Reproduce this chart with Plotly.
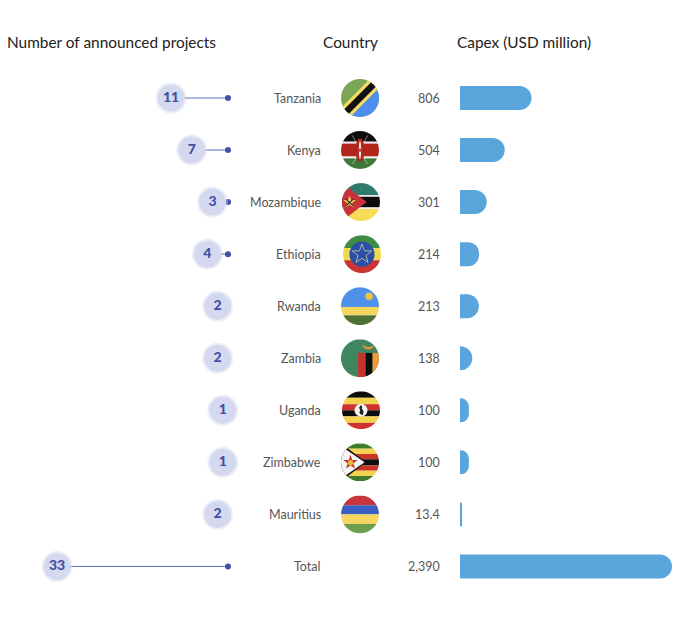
import math
from urllib.parse import quote
import plotly.graph_objects as go

countries = ["Tanzania", "Kenya", "Mozambique", "Ethiopia", "Rwanda", "Zambia", "Uganda", "Zimbabwe", "Mauritius", "Total"]
projects = [11, 7, 3, 4, 2, 2, 1, 1, 2, 33]
capex = [806, 504, 301, 214, 213, 138, 100, 100, 13.4, 2390]
capex_labels = ["806", "504", "301", "214", "213", "138", "100", "100", "13.4", "2,390"]

W, H = 680, 627
FONT = "Lato"
ROW_TOP, ROW_STEP = 98, 52.05
COUNT_ZERO, COUNT_SCALE = 228, 5.18
BAR_ZERO, BAR_SCALE = 460, 212 / 2390


def star(cx, cy, r_out, r_in, n=5):
    pts = []
    for i in range(n * 2):
        r = r_out if i % 2 == 0 else r_in
        a = -math.pi / 2 + i * math.pi / n
        pts.append(f"{cx + r * math.cos(a):.1f},{cy + r * math.sin(a):.1f}")
    return " ".join(pts)


def stripes(*bands):
    # bands are (top, height, colour) in a 100x100 box
    return "".join(f'<rect x="0" y="{t}" width="100" height="{h}" fill="{c}"/>' for t, h, c in bands)


FLAGS = {
    "Tanzania": '<rect width="100" height="100" fill="#7ba655"/>'
                '<polygon points="100,0 100,100 0,100" fill="#4f8dee"/>'
                '<polygon points="-10,86 86,-10 110,14 14,110" fill="#f5dc62"/>'
                '<polygon points="-4,92 92,-4 104,8 8,104" fill="#111"/>',
    "Kenya": stripes((0, 28, "#0d0d0d"), (28, 5, "#eee"), (33, 34, "#b3261e"), (67, 5, "#eee"), (72, 28, "#3d7a3a"))
             + '<path d="M30 12 L70 88 M70 12 L30 88" stroke="#ddd" stroke-width="1.5"/>'
               '<ellipse cx="50" cy="50" rx="12" ry="31" fill="#b3261e"/>'
               '<ellipse cx="50" cy="50" rx="3" ry="24" fill="#eee"/>'
               '<ellipse cx="50" cy="50" rx="2.5" ry="5" fill="#b3261e"/>',
    "Mozambique": stripes((0, 32, "#2f7a6e"), (32, 4, "#eee"), (36, 28, "#0d0d0d"), (64, 4, "#eee"), (68, 32, "#f8dc55"))
                  + '<polygon points="0,0 65,50 0,100" fill="#c9323a"/>'
                  + f'<polygon points="{star(20, 50, 17, 7)}" fill="#f3d44e"/>'
                  + '<path d="M10 60 L30 42 M30 60 L10 42" stroke="#222" stroke-width="3"/>',
    "Ethiopia": stripes((0, 34, "#3f8c45"), (34, 32, "#f0d94f"), (66, 34, "#cc3434"))
                + '<circle cx="50" cy="50" r="33" fill="#2850a8"/>'
                + f'<polygon points="{star(50, 50, 27, 11)}" fill="none" stroke="#b9bda0" stroke-width="2.5"/>',
    "Rwanda": stripes((0, 52, "#4f90ea"), (52, 22, "#f6d65e"), (74, 26, "#4f7136"))
              + f'<polygon points="{star(74, 24, 13, 8, 12)}" fill="#f0c53c"/>',
    "Zambia": '<rect width="100" height="100" fill="#3f8560"/>'
              '<rect x="45" y="36" width="20" height="64" fill="#c5332f"/>'
              '<rect x="65" y="36" width="18" height="64" fill="#0d0d0d"/>'
              '<rect x="83" y="36" width="17" height="64" fill="#ee9a3c"/>'
              '<path d="M54 13 Q66 22 72 20 Q80 22 90 14 Q82 28 72 27 Q62 27 54 13 Z" fill="#e3963a"/>',
    "Uganda": stripes((0, 17, "#0d0d0d"), (17, 17, "#f3d24f"), (34, 16, "#d2322f"), (50, 16, "#0d0d0d"),
                      (66, 17, "#f3d24f"), (83, 17, "#d2322f"))
              + '<circle cx="50" cy="50" r="17" fill="#f4f4f4"/>'
                '<path d="M50 36 Q42 42 48 50 Q42 58 54 63 Q60 52 52 46 Q55 40 50 36 Z" fill="#222"/>',
    "Zimbabwe": stripes((0, 14, "#3d7a2c"), (14, 14, "#f3d24f"), (28, 14, "#c9332c"), (42, 16, "#0d0d0d"),
                        (58, 14, "#c9332c"), (72, 14, "#f3d24f"), (86, 14, "#3d7a2c"))
                + '<polygon points="0,0 66,50 0,100" fill="#111"/>'
                  '<polygon points="-4,4 62,50 -4,96" fill="#f5f5f5"/>'
                + f'<polygon points="{star(25, 50, 20, 8)}" fill="#c9332c"/>'
                + '<circle cx="25" cy="51" r="7" fill="#e8b93c"/>',
    "Mauritius": stripes((0, 26, "#c8343b"), (26, 24, "#3a5fc0"), (50, 25, "#f6d65e"), (75, 25, "#6f9d4e")),
}
# small sideways nudges in px, the flags are not perfectly lined up
flag_x = {"Tanzania": 360, "Kenya": 360, "Mozambique": 361, "Ethiopia": 362, "Rwanda": 360,
          "Zambia": 360, "Uganda": 361, "Zimbabwe": 360, "Mauritius": 360}


def flag_uri(body):
    svg = ('<svg xmlns="http://www.w3.org/2000/svg" width="100" height="100" viewBox="0 0 100 100">'
           '<defs><clipPath id="c"><circle cx="50" cy="50" r="50"/></clipPath></defs>'
           f'<g clip-path="url(#c)">{body}</g></svg>')
    return "data:image/svg+xml," + quote(svg)


fig = go.Figure()

# Capex bars
fig.add_trace(go.Bar(
    x=capex, y=countries, orientation="h", xaxis="x2", yaxis="y",
    width=24 / ROW_STEP, marker=dict(color="#5aa5dc", line_width=0),
    hoverinfo="skip",
))

# Lollipop stems, from the zero dot out to the badge
stem_x, stem_y = [], []
for name, n in zip(countries, projects):
    stem_x += [0, n, None]
    stem_y += [name, name, None]
fig.add_trace(go.Scatter(x=stem_x, y=stem_y, mode="lines", line=dict(color="#5a6cb8", width=1), hoverinfo="skip"))
fig.add_trace(go.Scatter(
    x=[0] * len(countries), y=countries, mode="markers",
    marker=dict(size=6, color="#3f51a3"), hoverinfo="skip",
))
fig.add_trace(go.Scatter(
    x=projects, y=countries, mode="markers+text", text=[str(n) for n in projects],
    textposition="middle center", textfont=dict(family=FONT, size=14, color="#3f51a3", weight=900),
    marker=dict(size=27, color="#d5d9f0", line=dict(color="rgba(213,217,240,0.45)", width=4)),
    hoverinfo="skip",
))

fig.update_layout(
    width=W, height=H, margin=dict(l=0, r=0, t=0, b=0),
    paper_bgcolor="white", plot_bgcolor="white", showlegend=False,
    barcornerradius=12,
    xaxis=dict(domain=[0, 1], range=[COUNT_ZERO / COUNT_SCALE, (COUNT_ZERO - W) / COUNT_SCALE], visible=False),
    xaxis2=dict(domain=[0, 1], overlaying="x", range=[-BAR_ZERO / BAR_SCALE, (W - BAR_ZERO) / BAR_SCALE], visible=False),
    yaxis=dict(domain=[0, 1], type="category", categoryorder="array", categoryarray=countries,
               range=[(H - ROW_TOP) / ROW_STEP, -ROW_TOP / ROW_STEP], visible=False),
)

# Column headers
for text, x, anchor in [("Number of announced projects", 5, "left"), ("Country", 350.5, "center"),
                        ("Capex (USD million)", 455, "left")]:
    fig.add_annotation(text=text, xref="paper", yref="paper", x=x / W, y=1 - 42 / H, xanchor=anchor, yanchor="middle",
                       showarrow=False, font=dict(family=FONT, size=15.4, color="#222222"))

# Row labels
for name, label in zip(countries, capex_labels):
    fig.add_annotation(text=name, xref="paper", yref="y", x=323 / W, y=name, xanchor="right", yanchor="middle",
                       showarrow=False, font=dict(family=FONT, size=12.5, color="#555555"))
    fig.add_annotation(text=label, xref="paper", yref="y", x=442 / W, y=name, xanchor="right", yanchor="middle",
                       showarrow=False, font=dict(family=FONT, size=12.5, color="#555555"))

# Round flags
for name, body in FLAGS.items():
    fig.add_layout_image(source=flag_uri(body), xref="paper", yref="y", x=flag_x[name] / W, y=name,
                         sizex=38 / W, sizey=38 / ROW_STEP, xanchor="center", yanchor="middle",
                         sizing="stretch", layer="above")

fig.write_html("out.html", config={"displayModeBar": False}, post_script="document.body.style.margin='0';")
